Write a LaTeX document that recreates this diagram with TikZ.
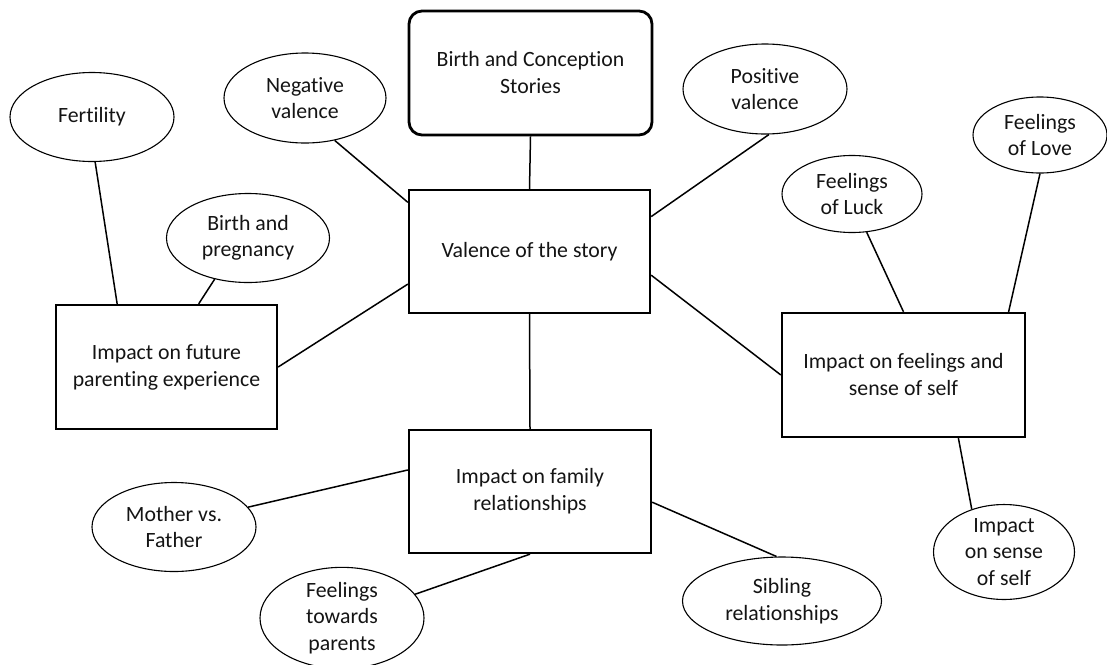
\documentclass[tikz,border=0pt]{standalone}
\usepackage{fontspec}
\setmainfont{Carlito}[Ligatures=NoCommon]
\usepackage{tikz}
\usetikzlibrary{shapes.geometric}

\begin{document}
\begin{tikzpicture}[x=1pt, y=-1pt,
		box/.style={draw, rectangle, line width=2.3pt, align=center, inner sep=0pt,
			font=\fontsize{21.8}{27}\selectfont, text=black!92},
		oval/.style={draw, ellipse, line width=1.1pt, align=center, inner sep=0pt,
			font=\fontsize{21.8}{26.5}\selectfont, text=black!92},
		link/.style={line width=1.5pt}]
		\useasboundingbox (0,0) rectangle (1107,664);

		% Boxes
		\node[box, rounded corners=13pt, line width=2.8pt, minimum width=243pt, minimum height=124pt] (story) at (530.5,73) {Birth and Conception\\Stories};
		\node[box, minimum width=241pt, minimum height=123pt] (valence) at (529.5,251.5) {Valence of the story};
		\node[box, minimum width=221pt, minimum height=124pt] (parenting) at (166.5,367) {Impact on future\\parenting experience};
		\node[box, minimum width=243pt, minimum height=124pt] (selfbox) at (903.5,375) {Impact on feelings and\\sense of self};
		\node[box, minimum width=242pt, minimum height=123pt] (family) at (530,491.5) {Impact on family\\relationships};

		% Ellipses
		\node[oval, minimum width=162pt, minimum height=90pt] (negval) at (305,98) {Negative\\valence};
		\node[oval, minimum width=164pt, minimum height=90pt] (posval) at (765,89) {Positive\\valence};
		\node[oval, minimum width=164pt, minimum height=89pt] (fertility) at (92,117) {Fertility};
		\node[oval, minimum width=163pt, minimum height=89pt] (pregnancy) at (248,238) {Birth and\\pregnancy};
		\node[oval, minimum width=140pt, minimum height=77pt] (luck) at (852,194) {Feelings\\of Luck};
		\node[oval, minimum width=134pt, minimum height=76pt] (love) at (1040,135) {Feelings\\of Love};
		\node[oval, minimum width=141pt, minimum height=89pt] (sense) at (1004,552) {Impact\\on sense\\of self};
		\node[oval, minimum width=164pt, minimum height=89pt] (mothfath) at (174,527) {Mother vs.\\Father};
		\node[oval, minimum width=164pt, minimum height=90pt] (towards) at (342,618) {Feelings\\towards\\parents};
		\node[oval, minimum width=199pt, minimum height=88pt] (sibling) at (782,601) {Sibling\\relationships};

		% Lines around the valence box
		\draw[link] (story.south) -- (valence.north);
		\draw[link] (negval.-55) -- (valence.158);
		\draw[link] (posval.-85) -- (valence.16);
		\draw[link] (valence.195) -- (parenting.east);
		\draw[link] (valence.-11) -- (selfbox.west);
		\draw[link] (valence.south) -- (family.north);

		% Lines to the parenting box
		\draw[link] (fertility.-86) -- (parenting.128);
		\draw[link] (pregnancy.-129) -- (parenting.63);

		% Lines to the self box
		\draw[link] (luck.-69) -- (selfbox.north);
		\draw[link] (love.south) -- (selfbox.31);
		\draw[link] (selfbox.-49) -- (sense.127);

		% Lines to the family box
		\draw[link] (mothfath.15) -- (family.170);
		\draw[link] (towards.18) -- (family.south);
		\draw[link] (sibling.97) -- (family.-5);
	\end{tikzpicture}
\end{document}
